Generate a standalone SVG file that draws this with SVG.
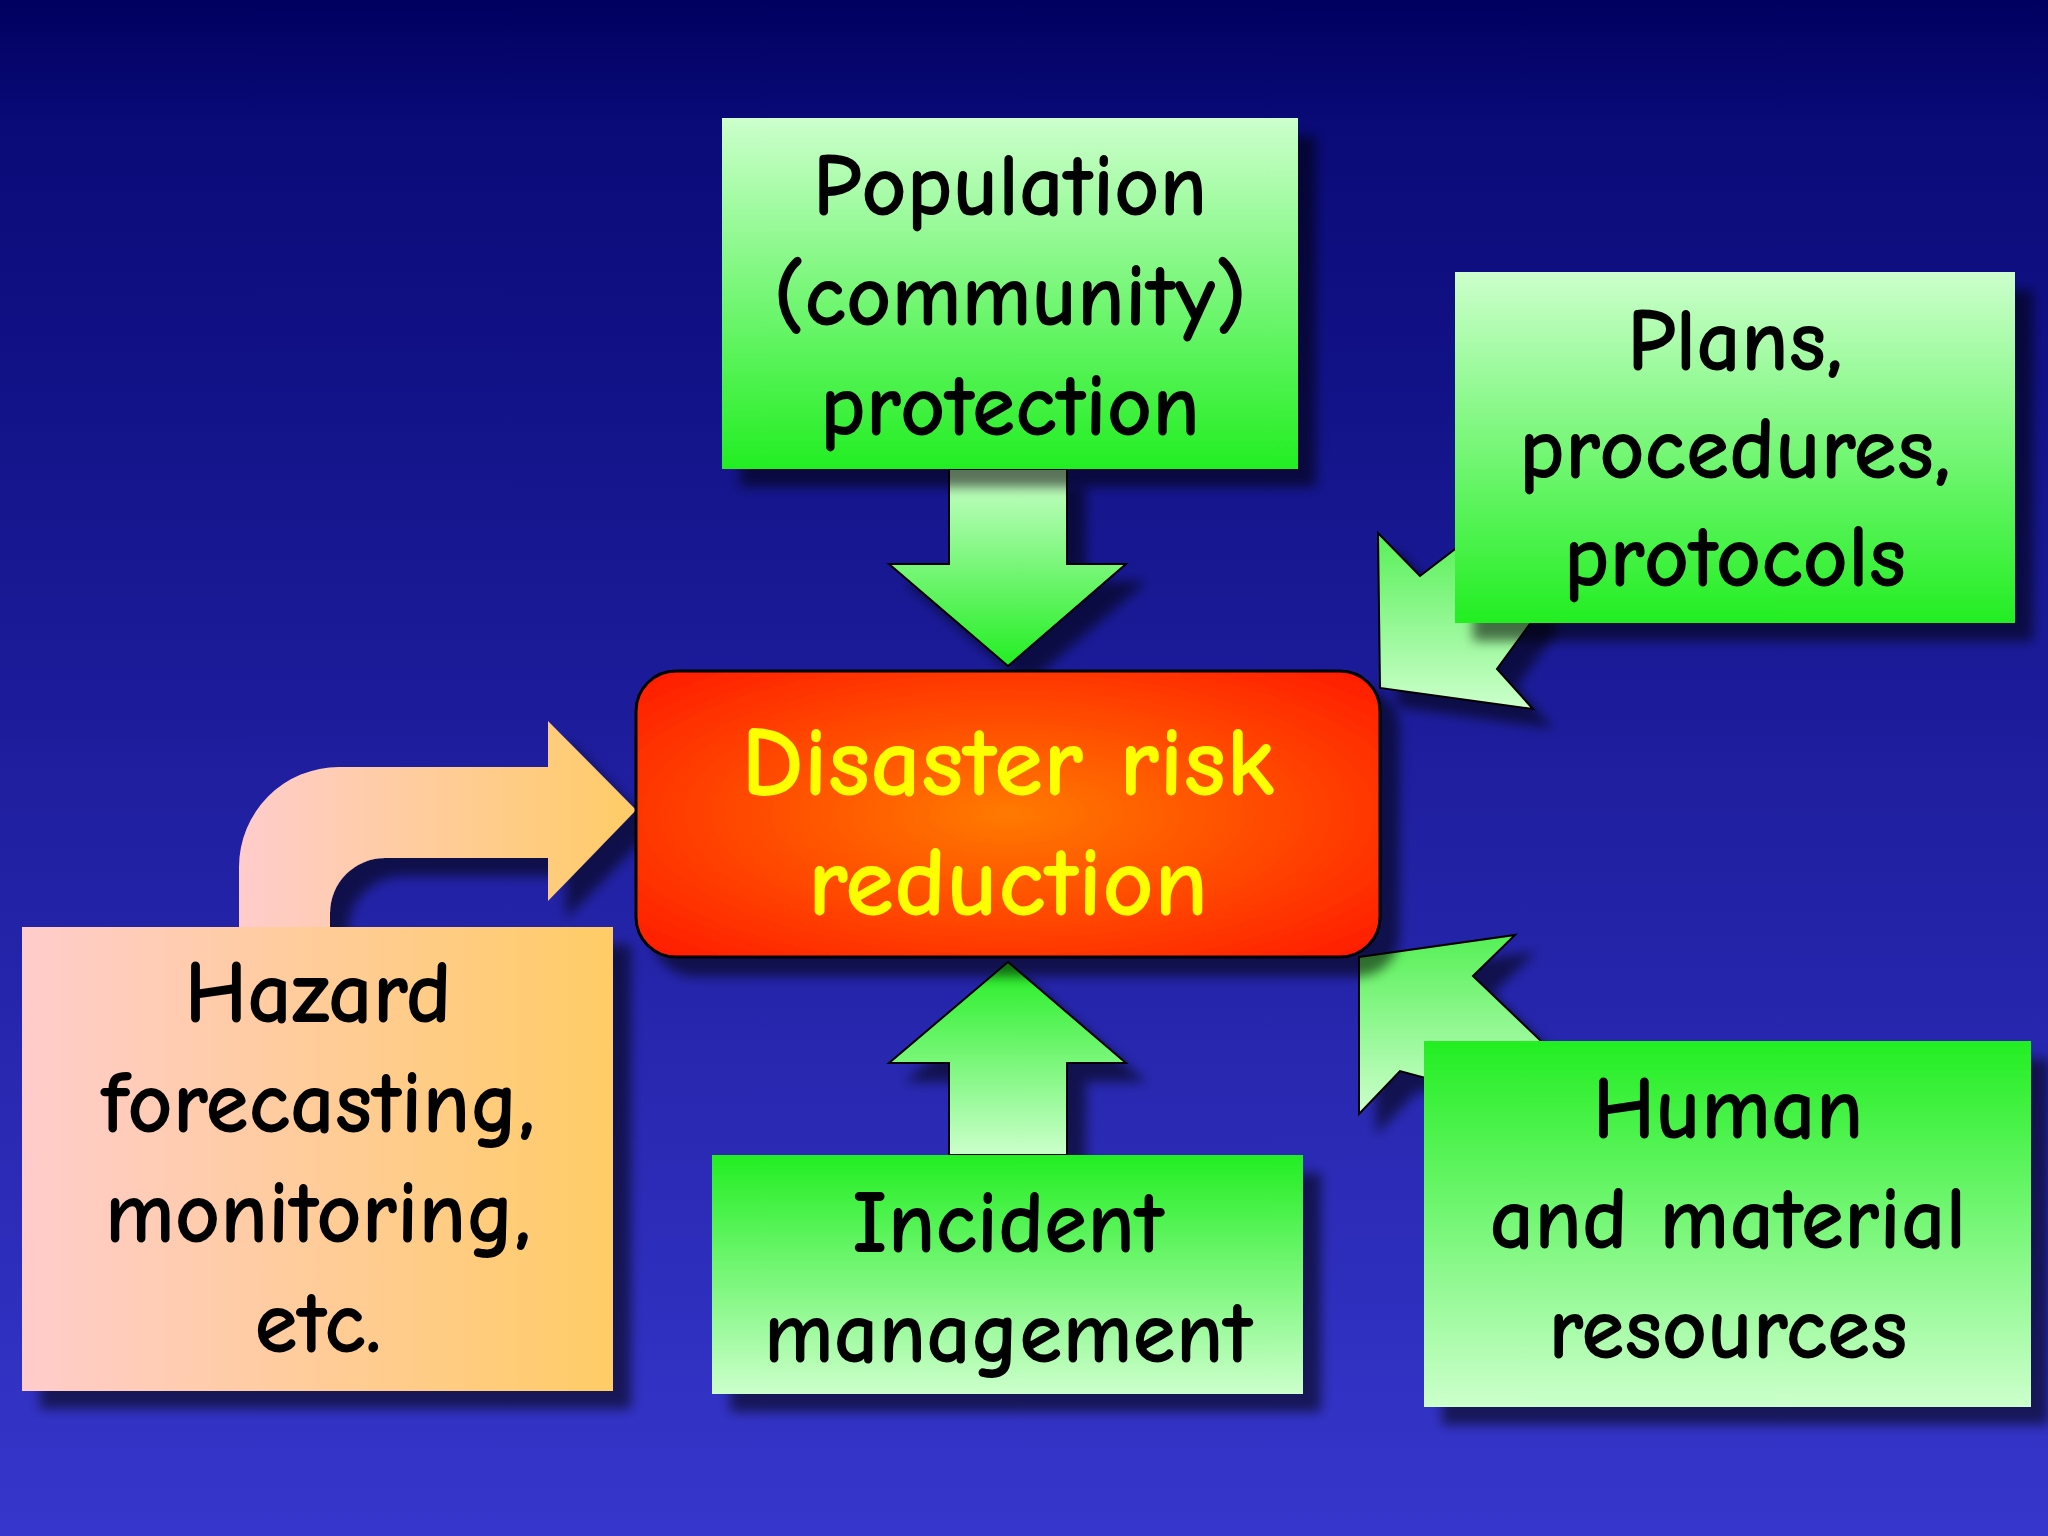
<svg xmlns="http://www.w3.org/2000/svg" width="2048" height="1536" viewBox="0 0 2048 1536">
<defs>
<linearGradient id="bg" x1="0" y1="0" x2="0" y2="1"><stop offset="0" stop-color="#000060"/><stop offset="0.08" stop-color="#0a0a78"/><stop offset="1" stop-color="#3636cc"/></linearGradient>
<linearGradient id="gdown" x1="0" y1="0" x2="0" y2="1"><stop offset="0" stop-color="#ccffcc"/><stop offset="1" stop-color="#22ee22"/></linearGradient>
<linearGradient id="gup" x1="0" y1="0" x2="0" y2="1"><stop offset="0" stop-color="#22ee22"/><stop offset="1" stop-color="#ccffcc"/></linearGradient>
<linearGradient id="ga" x1="0" y1="0" x2="0" y2="1"><stop offset="0" stop-color="#55f055"/><stop offset="1" stop-color="#ccffcc"/></linearGradient>
<linearGradient id="gh" x1="0" y1="0" x2="1" y2="0"><stop offset="0" stop-color="#ffcccc"/><stop offset="1" stop-color="#ffcc66"/></linearGradient>
<radialGradient id="gc" cx="0.5" cy="0.5" r="0.7"><stop offset="0" stop-color="#ff7a00"/><stop offset="1" stop-color="#ff1a00"/></radialGradient>
<filter id="sh" x="-10%" y="-10%" width="130%" height="130%"><feDropShadow dx="18" dy="18" stdDeviation="6" flood-color="#000" flood-opacity="0.55"/></filter>
</defs>
<style>
text{font-family:"Comic Neue","DejaVu Sans","Liberation Sans",sans-serif;font-weight:bold;text-anchor:middle}
.t{font-size:88px;fill:#000}
.c{font-size:100px;fill:#ffff00}
.ar{stroke:#000;stroke-width:2}
</style>
<rect width="2048" height="1536" fill="url(#bg)"/>
<g id="connectors" filter="url(#sh)">
<polygon class="ar" fill="url(#gdown)" points="949,469 1067,469 1067,564 1126,564 1008,666 889,564 949,564"/>
<polygon class="ar" fill="url(#gup)" points="1008,962 1126,1063 1067,1063 1067,1155 949,1155 949,1063 889,1063"/>
<polygon class="ar" fill="url(#ga)" points="1380,688 1378,533 1420,576 1480,530 1540,610 1497,669 1533,709"/>
<polygon class="ar" fill="url(#ga)" points="1359,957 1515,935 1473,976 1541,1041 1470,1090 1400,1071 1359,1114"/>
<path fill="url(#gh)" d="M239,927 L239,867 A100,100 0 0 1 339,767 L548,767 L548,721 L636,810 L548,901 L548,858 L385,858 A55,55 0 0 0 330,913 L330,927 Z"/>
</g>
<g id="population" filter="url(#sh)"><rect x="722" y="118" width="576" height="351" fill="url(#gdown)"/>
<text class="t" x="1010" y="215">Population</text><text class="t" x="1010" y="325">(community)</text><text class="t" x="1010" y="435">protection</text></g>
<g id="plans" filter="url(#sh)"><rect x="1455" y="272" width="560" height="351" fill="url(#gdown)"/>
<text class="t" x="1735" y="370">Plans,</text><text class="t" x="1735" y="478">procedures,</text><text class="t" x="1735" y="586">protocols</text></g>
<g id="center" filter="url(#sh)"><rect x="636" y="671" width="744" height="286" rx="40" fill="url(#gc)" stroke="#000" stroke-width="3"/>
<text class="c" x="1008" y="795">Disaster risk</text><text class="c" x="1008" y="915">reduction</text></g>
<g id="hazard" filter="url(#sh)"><rect x="22" y="927" width="591" height="464" fill="url(#gh)"/>
<text class="t" x="318" y="1022">Hazard</text><text class="t" x="318" y="1132">forecasting,</text><text class="t" x="318" y="1242">monitoring,</text><text class="t" x="318" y="1352">etc.</text></g>
<g id="incident" filter="url(#sh)"><rect x="712" y="1155" width="591" height="239" fill="url(#gup)"/>
<text class="t" x="1008" y="1252">Incident</text><text class="t" x="1008" y="1362">management</text></g>
<g id="human" filter="url(#sh)"><rect x="1424" y="1041" width="607" height="366" fill="url(#gup)"/>
<text class="t" x="1728" y="1138">Human</text><text class="t" x="1728" y="1248">and material</text><text class="t" x="1728" y="1358">resources</text></g>
</svg>
